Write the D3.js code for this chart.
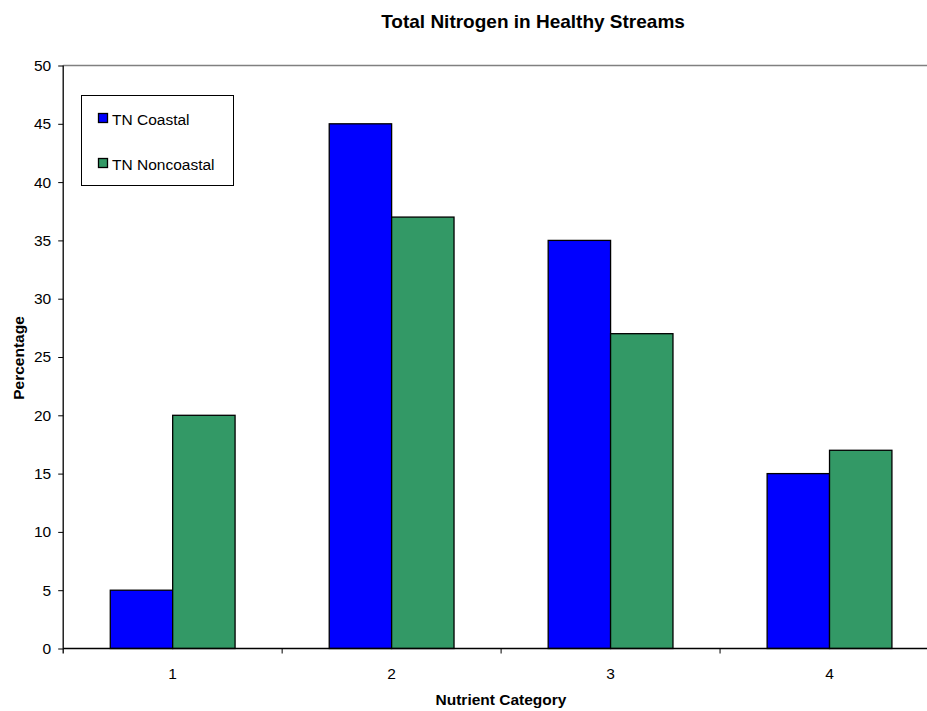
<!DOCTYPE html>
<html><head><meta charset="utf-8">
<script src="https://cdn.jsdelivr.net/npm/d3@7/dist/d3.min.js"></script>
<style>body{margin:0;background:#fff}svg{display:block}text{font-family:Arial,"Liberation Sans",sans-serif}</style>
</head><body>
<svg id="c" width="927" height="711"></svg>
<script>
const categories = ["1","2","3","4"];
const seriesNames = ["TN Coastal","TN Noncoastal"];
const coastal = [5,45,35,15];
const noncoastal = [20,37,27,17];
const yTicks = [0,5,10,15,20,25,30,35,40,45,50];
const colors = ["#0000FF","#339966"];

const svg = d3.select("#c");
const L=63.2, R=939, T=65.5, B=648.5;
const x = d3.scaleBand().domain(categories).range([L,R]).paddingInner(0).paddingOuter(0);
const y = d3.scaleLinear().domain([0,50]).range([B,T]);

// top border
svg.append("line").attr("x1",L).attr("x2",R).attr("y1",T).attr("y2",T).attr("stroke","#808080").attr("stroke-width",1.3);

const data = categories.map((c,i)=>({c, vals:[coastal[i],noncoastal[i]]}));
const g = svg.append("g");
data.forEach(d=>{
  d.vals.forEach((v,j)=>{
    const bw = x.bandwidth()*0.285;
    const cx = x(d.c)+x.bandwidth()/2;
    g.append("rect")
      .attr("x", j===0 ? cx-bw : cx)
      .attr("y", y(v))
      .attr("width", bw)
      .attr("height", y(0)-y(v))
      .attr("fill", colors[j]).attr("stroke","#000").attr("stroke-width",1.3);
  });
});

// y axis
const ya = svg.append("g").attr("transform",`translate(${L},0)`)
  .call(d3.axisLeft(y).tickValues(yTicks).tickSize(5).tickPadding(7));
ya.select(".domain").attr("stroke","#000").attr("stroke-width",1.3).attr("d",`M0,${T}V${B+5}`);
ya.selectAll("text").attr("font-size","15.5px").attr("fill","#000");

// x axis
const xa = svg.append("g").attr("transform",`translate(0,${B})`);
xa.append("line").attr("x1",L).attr("x2",R).attr("stroke","#000").attr("stroke-width",1.3);
categories.slice(1).forEach(c=>{
  xa.append("line").attr("x1",x(c)).attr("x2",x(c)).attr("y1",0).attr("y2",5).attr("stroke","#000");
});
categories.forEach(c=>{
  xa.append("text").attr("x",x(c)+x.bandwidth()/2).attr("y",30).attr("text-anchor","middle")
    .attr("font-size","15.5px").text(c);
});

// titles
svg.append("text").attr("x",533).attr("y",28).attr("text-anchor","middle").attr("font-size","19px").attr("font-weight","bold").text("Total Nitrogen in Healthy Streams");
svg.append("text").attr("x",501).attr("y",705).attr("text-anchor","middle").attr("font-size","15.5px").attr("font-weight","bold").text("Nutrient Category");
svg.append("text").attr("transform","translate(24,358) rotate(-90)").attr("text-anchor","middle").attr("font-size","15.5px").attr("font-weight","bold").text("Percentage");

// legend
const lg = svg.append("g");
lg.append("rect").attr("x",81.5).attr("y",95.5).attr("width",152).attr("height",90).attr("fill","#fff").attr("stroke","#000");
seriesNames.forEach((s,i)=>{
  const yy = 113.5 + i*45;
  lg.append("rect").attr("x",98.5).attr("y",yy).attr("width",9).attr("height",9).attr("fill",colors[i]).attr("stroke","#000").attr("stroke-width",1.3);
  lg.append("text").attr("x",112).attr("y",yy+11.5).attr("font-size","15.5px").text(s);
});
</script>
</body></html>
